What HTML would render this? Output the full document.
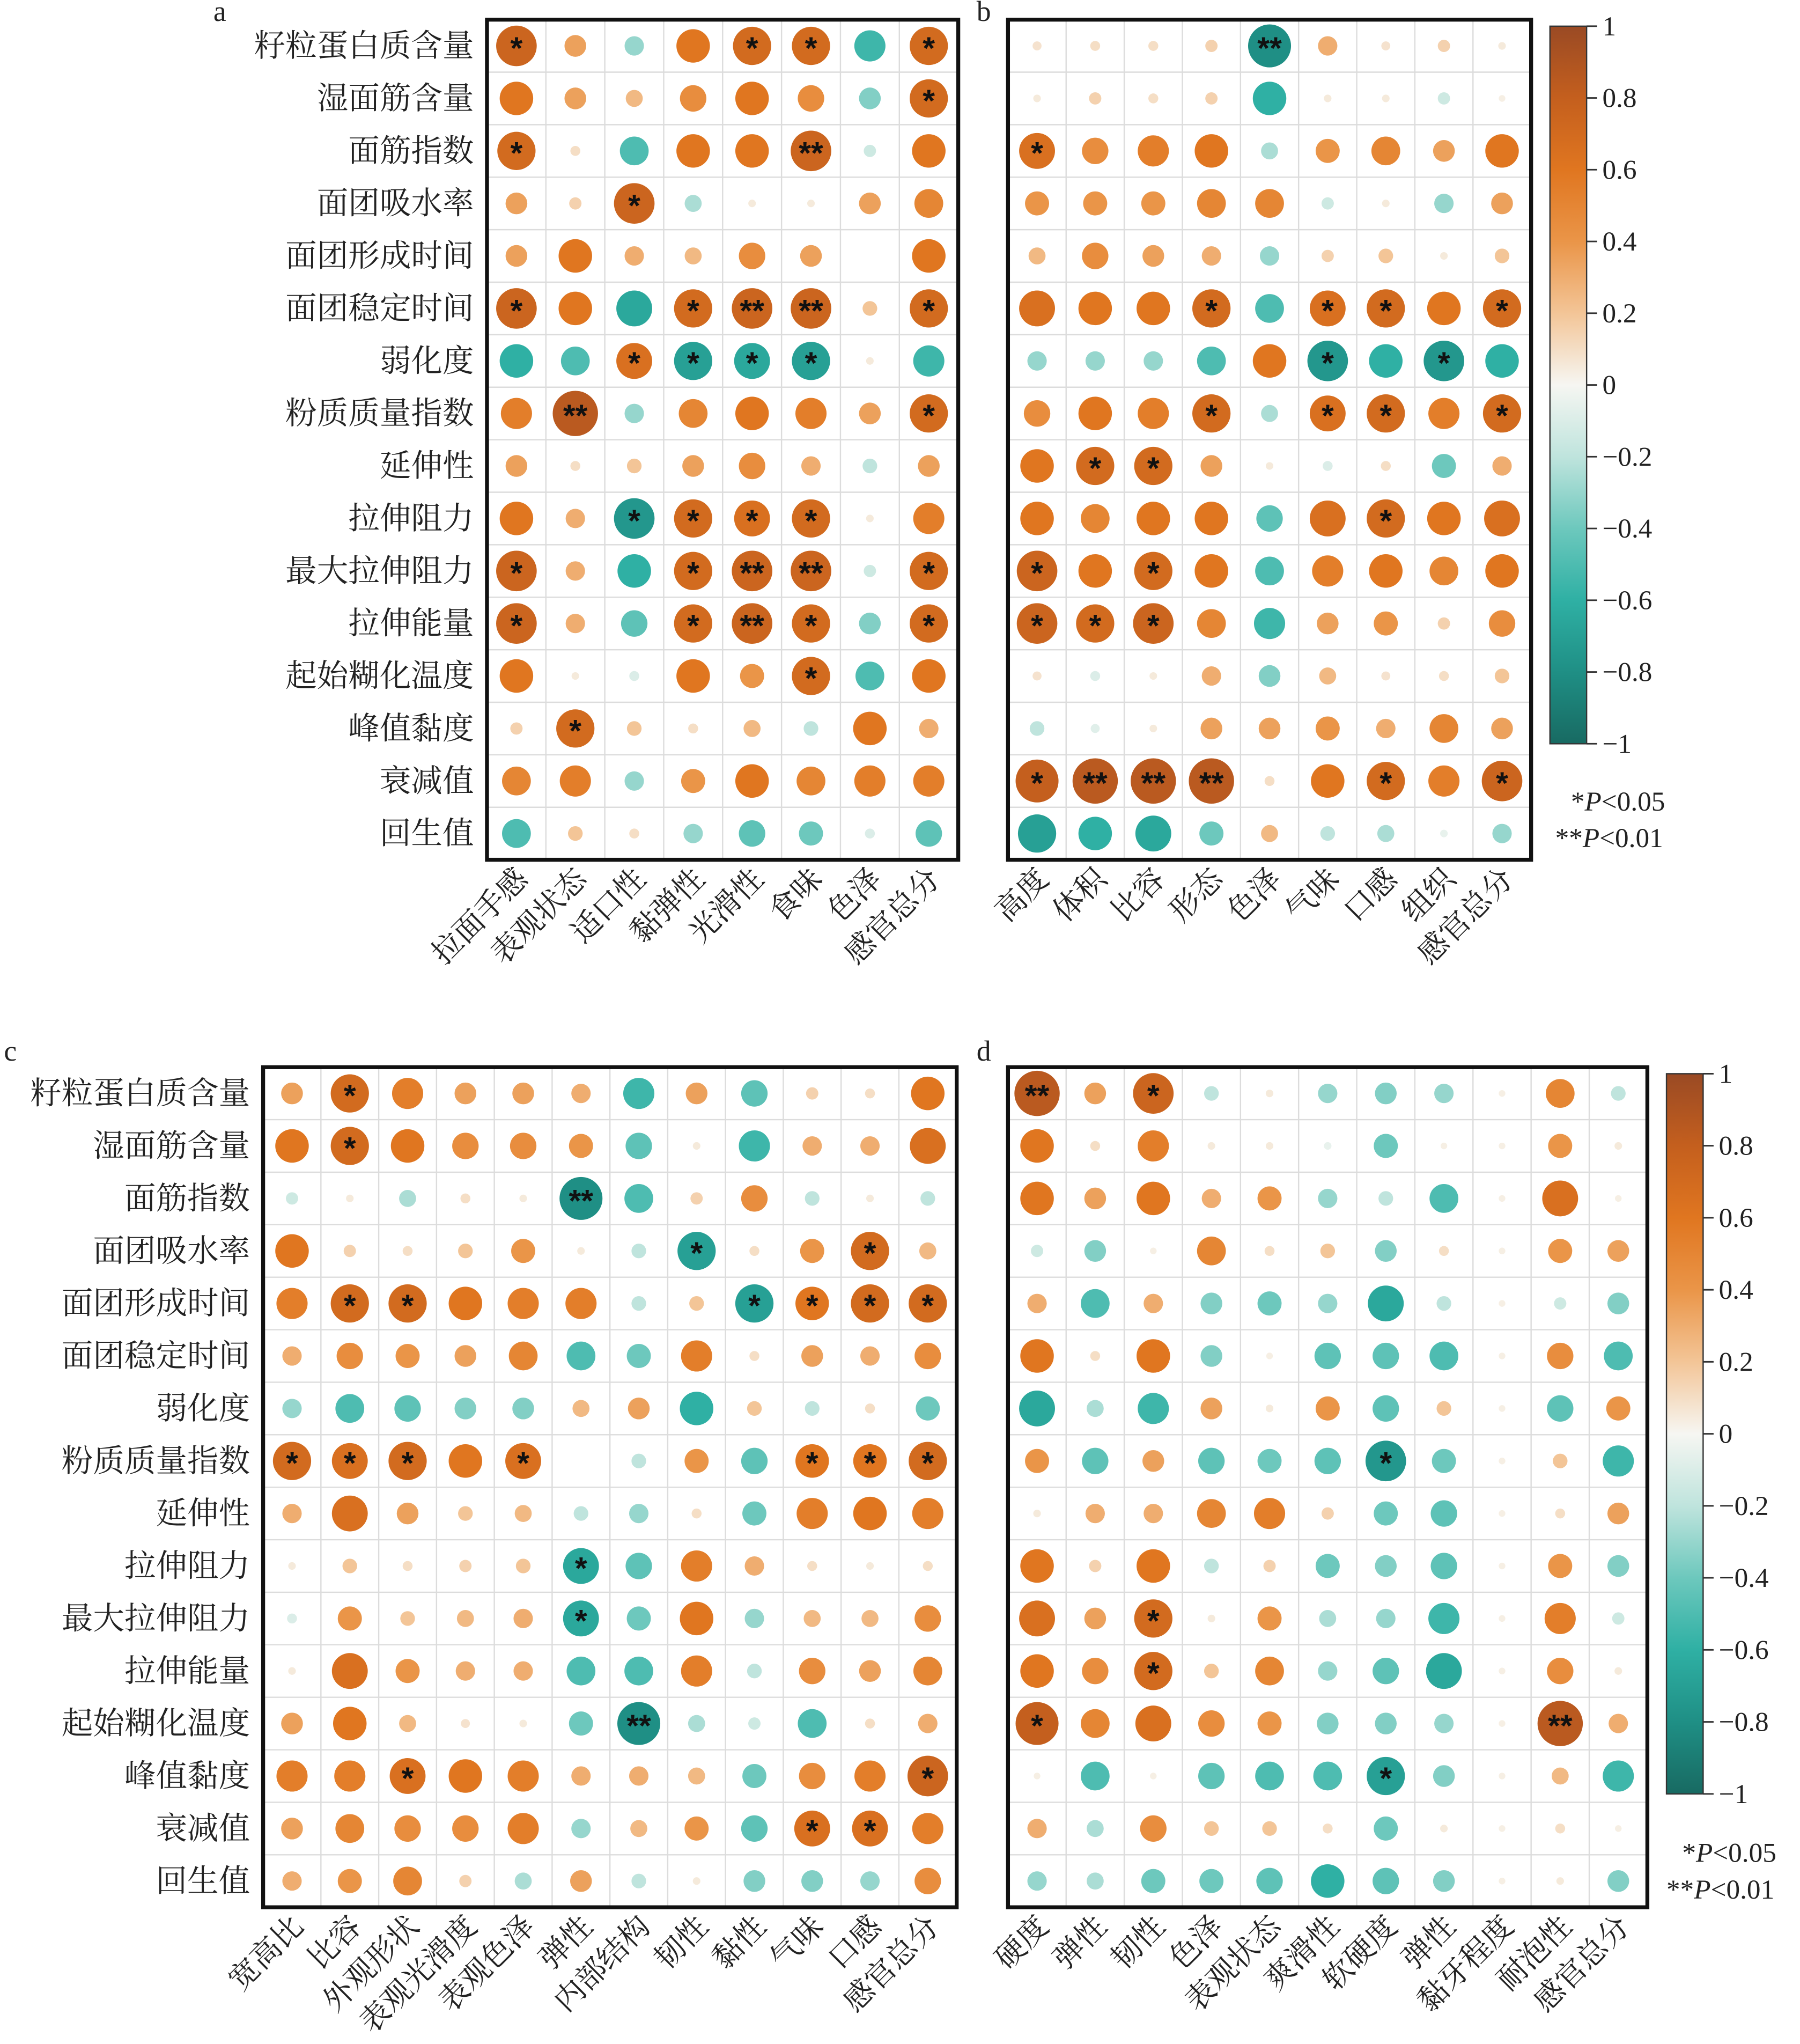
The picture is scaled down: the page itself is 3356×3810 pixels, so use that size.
<!DOCTYPE html>
<html><head><meta charset="utf-8">
<style>
html,body{margin:0;padding:0;background:#fff;}
svg{display:block;}
text{font-family:"Liberation Serif","Noto Serif CJK SC",serif;fill:#222;}
</style></head>
<body>
<svg id="s" xmlns="http://www.w3.org/2000/svg" width="3356" height="3810" viewBox="0 0 1375 1561">
<defs>
<linearGradient id="cb" x1="0" y1="0" x2="0" y2="1">
<stop offset="0" stop-color="#9a4a24"/>
<stop offset="0.1" stop-color="#c45f1e"/>
<stop offset="0.2" stop-color="#e07620"/>
<stop offset="0.3" stop-color="#ea9548"/>
<stop offset="0.4" stop-color="#f3c597"/>
<stop offset="0.5" stop-color="#f6f6f2"/>
<stop offset="0.6" stop-color="#bfe4dd"/>
<stop offset="0.7" stop-color="#6dc8bd"/>
<stop offset="0.8" stop-color="#2fb0a4"/>
<stop offset="0.9" stop-color="#1f8f85"/>
<stop offset="1" stop-color="#186a62"/>
</linearGradient>
</defs>
<g id="g"></g>
<text x="163" y="16" font-size="22">a</text>
<text x="746" y="16" font-size="22">b</text>
<text x="3" y="810" font-size="22">c</text>
<text x="746" y="810" font-size="22">d</text>
<text x="1200" y="619" font-size="21">*<tspan font-style="italic">P</tspan>&lt;0.05</text>
<text x="1188" y="647" font-size="21">**<tspan font-style="italic">P</tspan>&lt;0.01</text>
<text x="1285" y="1422" font-size="21">*<tspan font-style="italic">P</tspan>&lt;0.05</text>
<text x="1273" y="1450" font-size="21">**<tspan font-style="italic">P</tspan>&lt;0.01</text>
</svg>
<script>
var NS="http://www.w3.org/2000/svg",G=document.getElementById("g");
function el(t,a,txt){var e=document.createElementNS(NS,t);for(var k in a)e.setAttribute(k,a[k]);if(txt!==undefined)e.textContent=txt;G.appendChild(e);return e;}
var stops=[[-1,[24,106,98]],[-0.8,[31,143,133]],[-0.6,[47,176,164]],[-0.4,[109,200,189]],[-0.2,[191,228,221]],[0,[246,246,242]],[0.2,[243,197,151]],[0.4,[234,149,72]],[0.6,[224,118,32]],[0.8,[196,95,30]],[1,[154,74,36]]];
function col(v){for(var i=0;i<stops.length-1;i++){var a=stops[i],b=stops[i+1];if(v<=b[0]){var t=(v-a[0])/(b[0]-a[0]);return "rgb("+[0,1,2].map(function(j){return Math.round(a[1][j]+(b[1][j]-a[1][j])*t)}).join(",")+")";}}return "rgb(154,74,36)";}
var rows=["籽粒蛋白质含量","湿面筋含量","面筋指数","面团吸水率","面团形成时间","面团稳定时间","弱化度","粉质质量指数","延伸性","拉伸阻力","最大拉伸阻力","拉伸能量","起始糊化温度","峰值黏度","衰减值","回生值"];
function panel(x0,y0,cw,rh,cols,data,rowLabels){
 var nc=cols.length,W=cw*nc,H=rh*16;
 for(var i=1;i<nc;i++)el("line",{x1:x0+i*cw,y1:y0,x2:x0+i*cw,y2:y0+H,stroke:"#dcdcdc","stroke-width":1});
 for(var j=1;j<16;j++)el("line",{x1:x0,y1:y0+j*rh,x2:x0+W,y2:y0+j*rh,stroke:"#dcdcdc","stroke-width":1});
 for(var r=0;r<16;r++){var vals=data[r].split(" ");
  for(var c=0;c<nc;c++){var s=vals[c],st=(s.match(/\*/g)||[]).length,v=parseFloat(s);
   var cx=x0+(c+0.5)*cw,cy=y0+(r+0.5)*rh,rad=Math.min(19,2+18*Math.abs(v));
   if(Math.abs(v)>0.01)el("circle",{cx:cx,cy:cy,r:rad,fill:col(v)});
   if(st)el("text",{x:cx,y:cy+10,"font-size":24,"font-weight":"bold","text-anchor":"middle",style:"font-family:'Liberation Sans',sans-serif;fill:#111"},st==2?"**":"*");
  }
  if(rowLabels)el("text",{x:x0-10,y:y0+(r+0.5)*rh+8,"font-size":24,"text-anchor":"end"},rows[r]);
 }
 el("rect",{x:x0,y:y0,width:W,height:H,fill:"none",stroke:"#111","stroke-width":3});
 for(var c=0;c<nc;c++){var cx=x0+(c+0.5)*cw+10,cy=y0+H+16;
  el("text",{x:cx,y:cy,"font-size":23,"text-anchor":"end",transform:"rotate(-45 "+cx+" "+cy+")"},cols[c]);}
}
function cbar(x,y1,y2){
 el("rect",{x:x,y:y1,width:28,height:y2-y1,fill:"url(#cb)",stroke:"#333","stroke-width":1});
 var L=["1","0.8","0.6","0.4","0.2","0","−0.2","−0.4","−0.6","−0.8","−1"];
 for(var i=0;i<11;i++){var y=y1+(y2-y1)*i/10;
  el("line",{x1:x+28,y1:y,x2:x+36,y2:y,stroke:"#333","stroke-width":1.2});
  el("text",{x:x+40,y:y+7,"font-size":21},L[i]);}
}
var A=["0.75* 0.35 -0.3 0.6 0.7* 0.7* -0.55 0.7*","0.6 0.35 0.25 0.45 0.6 0.45 -0.35 0.7*","0.7* 0.1 -0.5 0.6 0.6 0.75** -0.15 0.6","0.35 0.15 0.75* -0.25 0.05 0.05 0.35 0.5","0.35 0.6 0.3 0.25 0.45 0.35 0 0.6","0.75* 0.6 -0.65 0.7* 0.75** 0.75** 0.2 0.7*","-0.6 -0.5 0.65* -0.7* -0.65* -0.7* 0.05 -0.55","0.55 0.85** -0.3 0.5 0.6 0.55 0.35 0.7*","0.35 0.1 0.2 0.35 0.45 0.3 -0.2 0.35","0.6 0.3 -0.75* 0.7* 0.65* 0.7* 0.05 0.55","0.75* 0.3 -0.6 0.7* 0.75** 0.75** -0.15 0.7*","0.75* 0.3 -0.45 0.7* 0.75** 0.7* -0.35 0.7*","0.6 0.05 -0.1 0.6 0.4 0.7* -0.5 0.6","0.15 0.7* 0.2 0.1 0.25 -0.2 0.6 0.3","0.5 0.55 -0.3 0.4 0.6 0.5 0.55 0.55","-0.5 0.2 0.1 -0.3 -0.45 -0.4 -0.1 -0.45"];
var B=["0.08 0.1 0.1 0.15 -0.8** 0.3 0.08 0.15 0.05","0.05 0.15 0.1 0.15 -0.6 0.05 0.05 -0.15 0.03","0.65* 0.45 0.55 0.6 -0.25 0.4 0.5 0.35 0.6","0.4 0.4 0.4 0.5 0.5 -0.15 0.05 -0.3 0.35","0.25 0.45 0.35 0.3 -0.3 0.15 0.2 0.05 0.2","0.65 0.6 0.6 0.7* -0.5 0.65* 0.7* 0.6 0.7*","-0.3 -0.3 -0.3 -0.5 0.6 -0.75* -0.6 -0.75* -0.6","0.45 0.6 0.55 0.7* -0.25 0.65* 0.7* 0.55 0.7*","0.6 0.7* 0.7* 0.35 0.05 -0.1 0.1 -0.4 0.3","0.6 0.5 0.6 0.6 -0.45 0.65 0.7* 0.6 0.65","0.75* 0.6 0.7* 0.6 -0.5 0.55 0.6 0.5 0.6","0.75* 0.7* 0.75* 0.5 -0.55 0.35 0.4 0.15 0.45","0.08 -0.1 0.05 0.3 -0.35 0.25 0.08 0.1 0.2","-0.2 -0.08 0.05 0.35 0.35 0.4 0.3 0.5 0.35","0.8* 0.85** 0.85** 0.85** 0.1 0.6 0.7* 0.55 0.75*","-0.7 -0.6 -0.65 -0.4 0.25 -0.2 -0.25 -0.05 -0.3"];
var C=["0.35 0.7* 0.55 0.35 0.35 0.3 -0.55 0.35 -0.45 0.15 0.1 0.6","0.6 0.7* 0.6 0.45 0.45 0.4 -0.45 0.05 -0.55 0.3 0.3 0.65","-0.15 0.05 -0.25 0.1 0.05 -0.8** -0.5 0.15 0.45 -0.2 0.05 -0.2","0.6 0.15 0.1 0.2 0.4 0.05 -0.2 -0.7* 0.1 0.4 0.7* 0.25","0.55 0.7* 0.7* 0.6 0.55 0.55 -0.2 0.2 -0.7* 0.6* 0.7* 0.7*","0.3 0.45 0.4 0.35 0.5 -0.5 -0.4 0.55 0.1 0.35 0.3 0.45","-0.3 -0.5 -0.45 -0.35 -0.35 0.25 0.35 -0.6 0.2 -0.2 0.1 -0.4","0.7* 0.65* 0.7* 0.6 0.65* 0 -0.2 0.4 -0.45 0.6* 0.6* 0.7*","0.3 0.65 0.35 0.2 0.25 -0.2 -0.3 0.1 -0.4 0.55 0.6 0.55","0.05 0.2 0.1 0.15 0.2 -0.65* -0.45 0.55 0.3 0.1 0.05 0.1","-0.1 0.4 0.2 0.25 0.3 -0.65* -0.4 0.6 -0.3 0.25 0.25 0.45","0.05 0.65 0.4 0.3 0.3 -0.5 -0.5 0.55 -0.2 0.45 0.35 0.5","0.35 0.6 0.25 0.08 0.05 -0.4 -0.8** -0.25 -0.15 -0.5 0.1 0.3","0.55 0.55 0.65* 0.6 0.55 0.3 0.3 0.25 -0.4 0.45 0.55 0.75*","0.35 0.5 0.45 0.45 0.55 -0.3 0.25 0.4 -0.45 0.65* 0.65* 0.55","0.3 0.4 0.5 0.15 -0.25 0.35 -0.2 0.05 -0.35 -0.35 -0.3 0.45"];
var D=["0.85** 0.35 0.75* -0.2 0.05 -0.3 -0.35 -0.3 0.03 0.5 -0.2","0.6 0.1 0.55 0.05 0.05 -0.05 -0.4 0.03 0.03 0.4 0.05","0.6 0.35 0.6 0.3 0.4 -0.3 -0.2 -0.5 0.03 0.65 0.03","-0.15 -0.35 0.03 0.5 0.1 0.2 -0.35 0.1 0.03 0.4 0.35","0.3 -0.5 0.3 -0.35 -0.4 -0.3 -0.65 -0.2 0.03 -0.15 -0.35","0.6 0.1 0.6 -0.35 0.03 -0.45 -0.45 -0.5 0.03 0.45 -0.5","-0.65 -0.25 -0.55 0.35 0.05 0.4 -0.45 0.2 0.03 -0.45 0.4","0.4 -0.45 0.35 -0.45 -0.4 -0.45 -0.75* -0.4 0.03 0.2 -0.55","0.05 0.3 0.3 0.5 0.55 0.15 -0.4 -0.45 0.03 0.1 0.35","0.6 0.15 0.6 -0.2 0.15 -0.4 -0.35 -0.45 0.03 0.4 -0.35","0.65 0.35 0.7* 0.05 0.4 -0.25 -0.3 -0.55 0.03 0.55 -0.15","0.6 0.45 0.7* 0.2 0.5 -0.3 -0.45 -0.65 0.03 0.45 0.05","0.8* 0.5 0.65 0.45 0.4 -0.35 -0.35 -0.3 0.03 0.85** 0.3","0.03 -0.5 0.03 -0.45 -0.5 -0.5 -0.7* -0.35 0.03 0.25 -0.55","0.3 -0.25 0.45 0.2 0.2 0.1 -0.4 0.05 0.03 0.1 0.03","-0.3 -0.25 -0.4 -0.4 -0.45 -0.6 -0.45 -0.35 0.03 0.05 -0.35"];
panel(372,15,45,40.1,["拉面手感","表观状态","适口性","黏弹性","光滑性","食味","色泽","感官总分"],A,true);
panel(770,15,44.4,40.1,["高度","体积","比容","形态","色泽","气味","口感","组织","感官总分"],B,false);
panel(201,815,44.15,40.1,["宽高比","比容","外观形状","表观光滑度","表观色泽","弹性","内部结构","韧性","黏性","气味","口感","感官总分"],C,true);
panel(770,815,44.4,40.1,["硬度","弹性","韧性","色泽","表观状态","爽滑性","软硬度","弹性","黏牙程度","耐泡性","感官总分"],D,false);
cbar(1184,20,568);
cbar(1273,820,1370);
</script>
</body></html>
